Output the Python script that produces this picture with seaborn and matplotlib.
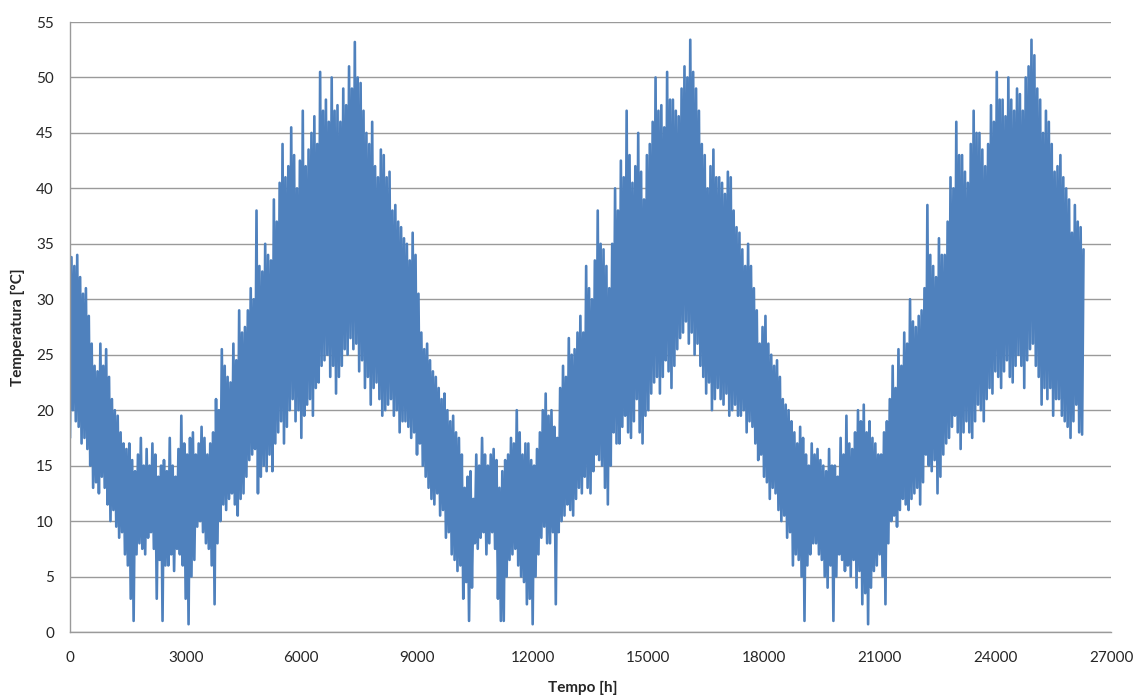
import numpy as np
import pandas as pd
import matplotlib
matplotlib.use("Agg")
import matplotlib.pyplot as plt
import seaborn as sns

# Read-off values: one lower and one upper reading every 75 hours (0 ... 26250 h)
step_h = 75
hi = [33.8, 33, 34, 32, 30.5, 31, 28.5, 26, 24, 23.5,
      26, 24, 25.5, 23, 21, 20, 19.5, 18, 17, 16.5,
      17, 15.5, 14.5, 16, 17.5, 15, 16.5, 15, 17, 16,
      14, 15, 15.5, 14.5, 17.5, 15, 14, 16.5, 19.5, 17,
      16, 17.5, 18, 16, 17, 18.5, 17.5, 16, 17, 18,
      21, 20, 25.5, 24, 23, 22.5, 26, 24.5, 29, 27,
      27.5, 29, 31, 30, 38, 33, 32.5, 35, 34, 33.5,
      39, 37, 40.5, 44, 41, 42, 45.5, 43, 40, 42.5,
      47, 42, 43.5, 45, 46.5, 44, 50.5, 47, 48, 46,
      50, 47, 47.5, 46, 49, 47.5, 51, 49, 53.2, 50,
      49.5, 47, 45, 44, 46, 42, 41, 43.5, 43, 41,
      41.5, 38, 38.5, 37, 36.5, 35.5, 35, 33.5, 36, 34,
      30.5, 27, 25.5, 26, 24.5, 23.5, 23, 22, 21, 21.5,
      20, 19, 19.5, 18, 17.5, 16, 13, 14, 14.5, 12,
      16, 15, 17.5, 16, 15, 16, 16.5, 15.5, 13, 14.5,
      15.5, 16, 17.5, 17, 20, 18, 16, 17, 17, 15.5,
      15, 16.5, 18, 20, 21.5, 19.5, 20, 18.5, 17.5, 22,
      24, 23, 26.5, 25, 25.5, 27, 28.5, 27, 33, 31,
      30, 33.5, 38, 35, 34.5, 33, 31, 35, 40, 38,
      42.5, 41, 47, 43, 40.5, 42, 45, 41.5, 39, 43,
      44, 46, 50, 47, 47.5, 45.5, 50.5, 48, 48, 47,
      46.5, 49, 51, 50, 53.4, 50.5, 49, 47, 44, 43,
      40, 42, 43.5, 41, 41, 40.5, 39.5, 41.5, 41, 38,
      36.5, 36, 34.5, 33, 35, 33, 31, 29, 26, 27.5,
      28.5, 26, 25, 24, 24.5, 23, 21, 20.5, 20, 19,
      18, 17, 18.5, 17.5, 16, 15, 17, 16, 16.5, 15.5,
      15, 14.5, 16.5, 15, 15, 14, 17.5, 16, 19.5, 17,
      16.5, 18, 20, 19, 20.5, 18, 19, 17.5, 17, 16,
      16, 18, 19, 21, 24, 22, 25.5, 24, 27, 26,
      30, 28, 27.5, 28.5, 29, 31, 38.5, 34, 33, 32,
      35.5, 34, 34, 37, 41, 40, 46, 43, 43, 41.5,
      40.5, 44, 47, 45, 45, 43.5, 42, 44, 47.5, 46,
      50.5, 48, 48, 46.5, 50, 48, 47, 49, 48.5, 47,
      50, 51, 53.4, 52, 49, 48, 45, 47, 46, 44,
      41.5, 42, 43, 41, 40, 39, 36, 38.5, 37, 36.5,
      34.5]
lo = [17.5, 20, 19, 18.5, 17, 17.5, 16.5, 15, 13, 13.5,
      12.5, 14, 13, 11.5, 10, 11, 9.5, 8.5, 9, 7,
      6, 3, 1, 7, 8, 7.5, 7, 8.5, 9, 7.5,
      3, 6.5, 1, 6, 6, 7, 5.5, 7.5, 7, 6,
      3, 0.7, 5, 6.5, 9.5, 10, 9, 8, 7.5, 6,
      2.5, 8, 10, 11.5, 11, 12, 12.5, 11.5, 10.5, 12,
      12.5, 14, 15.5, 16, 16.5, 12.5, 14, 15, 14.5, 16,
      14.5, 17, 18, 19, 17, 18.5, 20, 21, 19, 20,
      17.5, 19.5, 20.5, 21, 19.5, 22, 22.5, 24, 24.5, 25,
      23, 24, 21.5, 23, 24, 25.5, 25, 26.5, 25.5, 26,
      23.5, 24.5, 22, 23, 20.5, 22, 22.5, 21, 19.5, 20,
      20.5, 21, 19.5, 20, 18, 19, 19, 18.5, 17.5, 18,
      16, 17, 15, 14, 13, 12, 11.5, 12.5, 10.5, 11,
      8.5, 9, 7, 6.5, 5.5, 6, 3, 4.5, 1, 4,
      8, 7.5, 8.5, 9, 7, 8, 9, 7.5, 3, 1,
      1, 5, 6.5, 7, 7.5, 6, 5, 4.5, 2.5, 3,
      0.7, 5, 7, 8.5, 9.5, 8, 8, 9, 2.5, 9,
      10, 10.5, 11.5, 11, 10.5, 12, 13, 12.5, 14, 13,
      12.5, 14.5, 16, 15.5, 15, 13, 11.5, 15, 18, 17,
      17, 18.5, 19.5, 18, 17.5, 19, 21, 18, 17, 19.5,
      20, 21.5, 22.5, 23, 21.5, 23, 24.5, 23.5, 22, 24,
      25.5, 26.5, 27, 28, 26, 27, 25, 26, 24, 23,
      21.5, 22.5, 20, 21, 22, 21, 20.5, 21.5, 19.5, 20,
      20.5, 19.5, 19.5, 20, 18, 19, 18.5, 17, 15.5, 16,
      14, 13.5, 12, 13, 12.5, 11, 10, 10.5, 8.5, 9,
      6, 7, 6.5, 5, 1, 6, 7, 8, 8, 7,
      6.5, 5, 4, 6, 1, 5, 7, 6.5, 5.5, 6,
      5, 6.5, 4, 5.5, 2.5, 3.5, 0.7, 4, 5.5, 6,
      7, 5, 2.5, 8, 10, 10.5, 9.5, 11, 12, 11.5,
      11, 12, 12.5, 13, 11.5, 13.5, 16, 15, 14.5, 15.5,
      12.5, 14, 16, 17, 17.5, 18.5, 19.5, 18, 16.5, 18,
      19, 18, 17.5, 19, 20.5, 20, 19, 21, 22, 21.5,
      23.5, 23, 22, 23.5, 24.5, 23, 22.5, 24, 25, 24,
      22, 24.5, 25.5, 26, 24, 23, 20.5, 22, 21, 22,
      19.5, 21, 21, 19.5, 19, 18.5, 17.5, 19, 20.5, 18,
      17.8]

x_ticks = [0, 3000, 6000, 9000, 12000, 15000, 18000, 21000, 24000, 27000]
y_ticks = list(range(0, 56, 5))

# Interleave lower / upper readings into one trace
hours, temps = [], []
for i, (a, b) in enumerate(zip(lo, hi)):
    hours += [i * step_h, i * step_h + step_h / 2]
    temps += [a, b]
df = pd.DataFrame({"Tempo": hours, "Temperatura": temps})

sns.set_theme(style="white")
plt.rcParams['font.family'] = ['Lato', 'DejaVu Sans']

fig = plt.figure(figsize=(11.35, 6.98), dpi=100)
ax = fig.add_axes([70 / 1135, 1 - 632 / 698, (1111 - 70) / 1135, (632 - 22) / 698])

sns.lineplot(data=df, x="Tempo", y="Temperatura", estimator=None, sort=False,
             color="#4F81BD", linewidth=1.9, ax=ax)

ax.set_xlim(0, 27000)
ax.set_ylim(0, 55)
ax.set_xticks(x_ticks)
ax.set_yticks(y_ticks)
ax.set_xticklabels([str(t) for t in x_ticks], fontsize=11, color="#262626")
ax.set_yticklabels([str(t) for t in y_ticks], fontsize=11, color="#262626")
ax.grid(axis="y", color="#9a9a9a", linewidth=1.0)
ax.grid(axis="x", visible=False)
ax.set_axisbelow(True)
for s in ["top", "right"]:
    ax.spines[s].set_visible(False)
for s in ["left", "bottom"]:
    ax.spines[s].set_color("#9a9a9a")
    ax.spines[s].set_linewidth(1.0)
ax.tick_params(axis="x", length=0, pad=14)
ax.tick_params(axis="y", length=0, pad=11.5)

ax.set_xlabel("Tempo [h]", fontsize=11, fontweight="bold")
ax.set_ylabel("Temperatura [°C]", fontsize=11, fontweight="bold")
ax.xaxis.set_label_coords((583 - 70) / 1041, (632 - 688) / 610)
ax.yaxis.set_label_coords((18 - 70) / 1041, 0.5)
ax.xaxis.label.set_verticalalignment("center")
ax.yaxis.label.set_verticalalignment("center")

fig.savefig("out.png", dpi=100, facecolor="white")
